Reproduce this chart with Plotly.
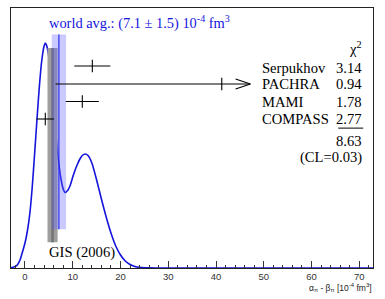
import plotly.graph_objects as go

# ---------------- data ----------------
# likelihood curve (arbitrary units)
curve_x = [-3, -2.5, -2, -1.5, -1, -0.5, 0, 0.5, 1, 1.5, 2, 2.5, 3, 3.5, 4, 4.25,
           4.5, 5, 5.5, 6, 6.5, 7, 7.5, 8, 8.4, 9, 9.5, 10, 10.5, 11, 11.5, 12,
           12.6, 13.2, 14, 15, 16, 17, 18, 19, 20, 21, 22, 23, 24, 26, 28, 72.9]
curve_y = [0.3, 0.8, 1.6, 3.8, 8.5, 16.5, 25, 37, 54, 80, 113, 148, 181, 207, 222, 225,
           223, 211, 188, 160, 132, 108, 90, 79, 75.5, 78, 83, 91, 98, 104, 109, 112.5,
           114, 112.5, 105, 88, 69, 51, 35, 22, 13, 7, 3.5, 1.6, 0.7, 0.1, 0, 0]

experiments = ["Serpukhov", "PACHRA", "MAMI", "COMPASS"]
exp_values = [14.1, 41.2, 12.0, 4.25]
exp_err_lo = [3.77, 34.8, 3.46, 1.82]
exp_err_hi = [3.77, 6.0, 3.46, 1.82]
chi2_values = ["3.14", "0.94", "1.78", "2.77"]
chi2_total = "8.63"
cl_text = "(CL=0.03)"

world_avg = 7.1
world_err = 1.5
gis_value = 5.77
gis_err = 1.06

x_ticks = [0, 10, 20, 30, 40, 50, 60, 70]

# ---------------- layout constants ----------------
row_y = [202, 184, 166.5, 149]
SERIF = "Liberation Serif"
SANS = "Liberation Sans"
BLUE = "#1414dc"

fig = go.Figure()

# curve
fig.add_trace(go.Scatter(x=curve_x, y=curve_y, mode="lines",
                         line=dict(color=BLUE, width=1.6, shape="spline", smoothing=0.6),
                         hoverinfo="skip"))

# GIS band (grey)
g0, g1 = gis_value - gis_err, gis_value + gis_err
fig.add_trace(go.Scatter(x=[g0, g1, g1, g0, g0], y=[25.7, 25.7, 220, 220, 25.7],
                         mode="lines", fill="toself", fillcolor="#9e9e9e",
                         line=dict(width=0), hoverinfo="skip"))
fig.add_trace(go.Scatter(x=[gis_value, gis_value], y=[25.7, 220], mode="lines",
                         line=dict(color="#717171", width=2.4), hoverinfo="skip"))

# world average band (blue, translucent)
w0, w1 = world_avg - world_err, world_avg + world_err
fig.add_trace(go.Scatter(x=[w0, w1, w1, w0, w0], y=[38.7, 38.7, 233.5, 233.5, 38.7],
                         mode="lines", fill="toself", fillcolor="rgba(95,95,255,0.33)",
                         line=dict(width=0), hoverinfo="skip"))
fig.add_trace(go.Scatter(x=[world_avg, world_avg], y=[38.7, 233.5], mode="lines",
                         line=dict(color="#2a2af0", width=1.2), hoverinfo="skip"))

# experimental points
fig.add_trace(go.Scatter(
    x=exp_values, y=row_y, mode="markers",
    marker=dict(symbol="line-ns", size=9, line=dict(color="black", width=1.1), color="black"),
    error_x=dict(type="data", symmetric=False, array=exp_err_hi, arrayminus=exp_err_lo,
                 width=0, thickness=1.1, color="black"),
    hoverinfo="skip"))

# arrow head for PACHRA (open ">")
tip = exp_values[1] + exp_err_hi[1]
fig.add_trace(go.Scatter(x=[tip - 3.1, tip, tip - 3.1], y=[row_y[1] + 5, row_y[1], row_y[1] - 5],
                         mode="lines", line=dict(color="black", width=1.1), hoverinfo="skip"))

# ---------------- annotations ----------------
ann = []
def txt(x, y, s, xanchor="left", size=14.6, color="black", font=SERIF, yanchor="middle"):
    ann.append(dict(x=x, y=y, xref="paper", yref="paper", text=s, showarrow=False,
                    xanchor=xanchor, yanchor=yanchor, borderpad=0,
                    font=dict(family=font, size=size, color=color)))

txt(0.102, 0.946, "world avg.: (%.1f ± %.1f) 10<sup>-4</sup> fm<sup>3</sup>" % (world_avg, world_err),
    color=BLUE, size=14.4)
txt(0.102, 0.059, "GIS (2006)")
txt(0.973, 0.846, "χ<sup>2</sup>", xanchor="right")
name_y = [0.771, 0.706, 0.640, 0.573]
for n, v, yy in zip(experiments, chi2_values, name_y):
    txt(0.691, yy, n)
    txt(0.973, yy, v, xanchor="right")
txt(0.973, 0.487, chi2_total, xanchor="right")
txt(0.973, 0.425, cl_text, xanchor="right")
txt(1.0, -0.076, "α<sub>π</sub> - β<sub>π</sub> [10<sup>-4</sup> fm<sup>3</sup>]",
    xanchor="right", size=8.5, font=SANS, color="#222")

fig.update_layout(
    width=385, height=299,
    margin=dict(l=11, r=12, t=8, b=31, autoexpand=False),
    paper_bgcolor="white", plot_bgcolor="white",
    showlegend=False,
    annotations=ann,
    shapes=[dict(type="line", xref="paper", yref="paper", x0=0.904, x1=0.973,
                 y0=0.538, y1=0.538, line=dict(color="black", width=1))],
    xaxis=dict(range=[-2.93, 72.87], tickvals=x_ticks, ticks="inside", ticklen=7,
               tickcolor="#333", tickwidth=1, automargin=False, ticklabelstandoff=0,
               minor=dict(dtick=2, tick0=0, ticks="inside", ticklen=3.5, tickcolor="#333"),
               showline=True, linecolor="#222", linewidth=1, mirror=True,
               showgrid=False, zeroline=False,
               tickfont=dict(family=SANS, size=9.5, color="#333")),
    yaxis=dict(range=[0, 260], showticklabels=False, ticks="", showgrid=False,
               automargin=False,
               zeroline=False, showline=True, linecolor="#222", linewidth=1, mirror=True),
)

fig.write_html("out.html", config={"displayModeBar": False},
               post_script="document.body.style.margin='0';document.body.style.overflow='hidden';")
